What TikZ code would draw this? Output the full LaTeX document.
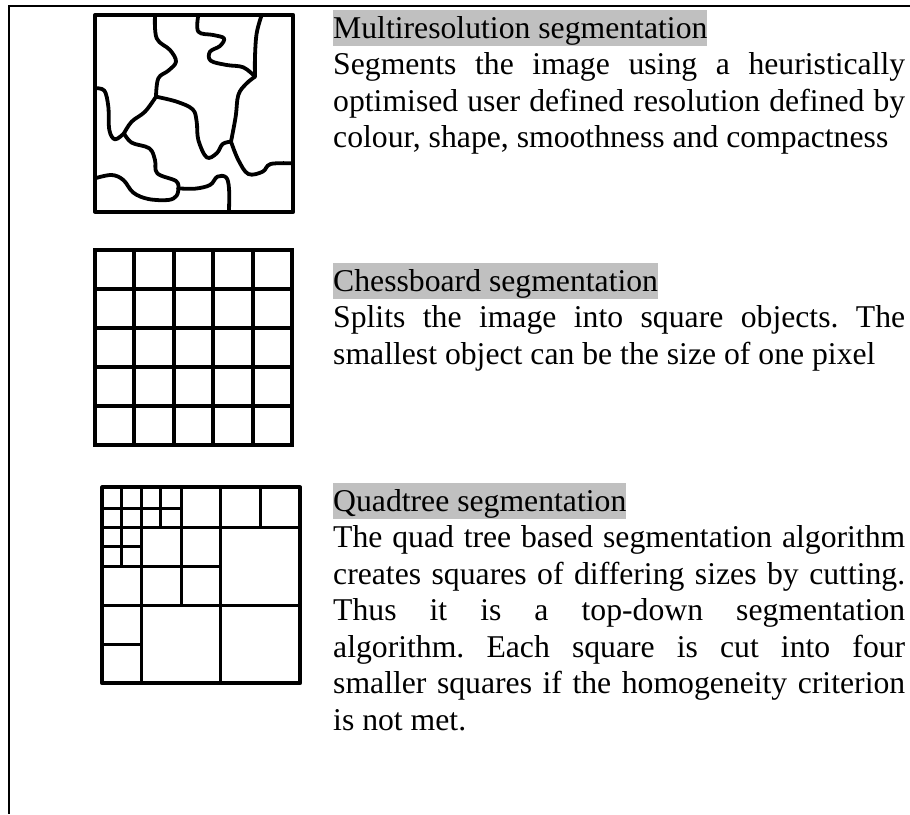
\documentclass[tikz,border=0pt]{standalone}
\usepackage{fontspec}
\setmainfont{Liberation Serif}
\frenchspacing
\definecolor{hlgray}{RGB}{192,192,192}
\newcommand{\jline}[1]{\makebox[572pt][s]{#1}}
\newcommand{\lline}[1]{\makebox[572pt][l]{#1}}
\begin{document}
\begin{tikzpicture}[x=1pt,y=-1pt,
  txt/.style={anchor=base west,inner sep=0pt,font=\fontsize{31.7}{36.5}\selectfont\frenchspacing},
  head/.style={txt,fill=hlgray,text height=28pt,text depth=8pt},
  framel/.style={line width=2.4pt},
  outerbox/.style={line width=4pt,line join=round},
  seg/.style={line width=3.8pt,line cap=round,line join=round},
  grid/.style={line width=4pt},
  qline/.style={line width=3pt}]
\useasboundingbox (0,0) rectangle (910,814);
% frame
\coordinate (fTL) at (9,6);
\coordinate (fTR) at (910,6);
\coordinate (fBL) at (9,814);
\draw[framel] (fTR) -- (fTL) -- (fBL);

% ---------- Multiresolution icon ----------
\begin{scope}[shift={(70,0)},scale=1/3]
  \draw[outerbox] (75,45) rectangle (670,635);
  \draw[seg] plot[smooth,tension=0.6] coordinates {(255,45) (260,115) (300,150) (318,185) (295,212) (265,235) (258,290)};
  \draw[seg] plot[smooth,tension=0.6] coordinates {(258,290) (225,335) (185,365) (162,400)};
  \draw[seg] plot[smooth,tension=0.6] coordinates {(75,265) (103,272) (115,320) (118,390) (135,418) (162,400)};
  \draw[seg] plot[smooth,tension=0.6] coordinates {(258,290) (320,305) (368,328) (380,365) (385,420) (410,472) (440,460) (458,432) (483,425)};
  \draw[seg] plot[smooth,tension=0.6] coordinates {(483,425) (497,350) (505,285) (528,252) (555,230)};
  \draw[seg] plot[smooth,tension=0.6] coordinates {(575,45) (560,100) (555,170) (555,230)};
  \draw[seg] plot[smooth,tension=0.6] coordinates {(385,45) (385,95) (430,105) (462,115) (450,138) (420,155) (422,182) (470,195) (520,202) (555,230)};
  \draw[seg] plot[smooth,tension=0.6] coordinates {(483,425) (505,480) (535,522) (578,515) (602,492) (668,490)};
  \draw[seg] plot[smooth,tension=0.6] coordinates {(162,400) (185,428) (238,445) (255,480) (262,520) (318,543) (325,565)};
  \draw[seg] plot[smooth,tension=0.6] coordinates {(325,565) (375,566) (420,555) (442,530) (468,532) (477,565) (477,632)};
  \draw[seg] plot[smooth,tension=0.6] coordinates {(75,535) (125,525) (160,540) (190,578) (235,597) (295,600) (320,587) (325,565)};
\end{scope}

% ---------- Chessboard icon ----------
\begin{scope}[shift={(95,250)}]
  \foreach \i in {0,...,5} {
    \draw[grid] (\i*39.4,-1) -- (\i*39.4,196);
    \draw[grid] (-2,\i*39) -- (199,\i*39);
  }
\end{scope}

% ---------- Quadtree icon ----------
\begin{scope}[shift={(70,440)},scale=1/3]
  \draw[qline] (213,142) -- (213,730);
  \draw[qline] (452,142) -- (452,730);
  \draw[qline] (333,142) -- (333,495);
  \draw[qline] (572,142) -- (572,262);
  \draw[qline] (155,142) -- (155,380);
  \draw[qline] (272,142) -- (272,262);
  \draw[qline] (97,262) -- (690,262);
  \draw[qline] (97,495) -- (690,495);
  \draw[qline] (97,380) -- (452,380);
  \draw[qline] (97,205) -- (333,205);
  \draw[qline] (97,320) -- (213,320);
  \draw[qline] (97,612) -- (213,612);
  \draw[outerbox] (97,142) rectangle (690,730);
\end{scope}

% ---------- Texts ----------
\node[head] (h1) at (333,38) {Multiresolution segmentation};
\node[txt] (m1) at (333,74.5) {\jline{Segments the image using a heuristically}};
\node[txt] (m2) at (333,111) {\jline{optimised user defined resolution defined by}};
\node[txt] (m3) at (333,147.5) {\lline{colour, shape, smoothness and compactness}};

\node[head] (h2) at (333,291) {Chessboard segmentation};
\node[txt] (c1) at (333,327.5) {\jline{Splits the image into square objects. The}};
\node[txt] (c2) at (333,364) {\lline{smallest object can be the size of one pixel}};

\node[head] (h3) at (333,511) {Quadtree segmentation};
\node[txt] (q1) at (333,547.5) {\jline{The quad tree based segmentation algorithm}};
\node[txt] (q2) at (333,584) {\jline{creates squares of differing sizes by cutting.}};
\node[txt] (q3) at (333,620.5) {\jline{Thus it is a top-down segmentation}};
\node[txt] (q4) at (333,657) {\jline{algorithm. Each square is cut into four}};
\node[txt] (q5) at (333,693.5) {\jline{smaller squares if the homogeneity criterion}};
\node[txt] (q6) at (333,730) {\lline{is not met.}};
\end{tikzpicture}
\end{document}
